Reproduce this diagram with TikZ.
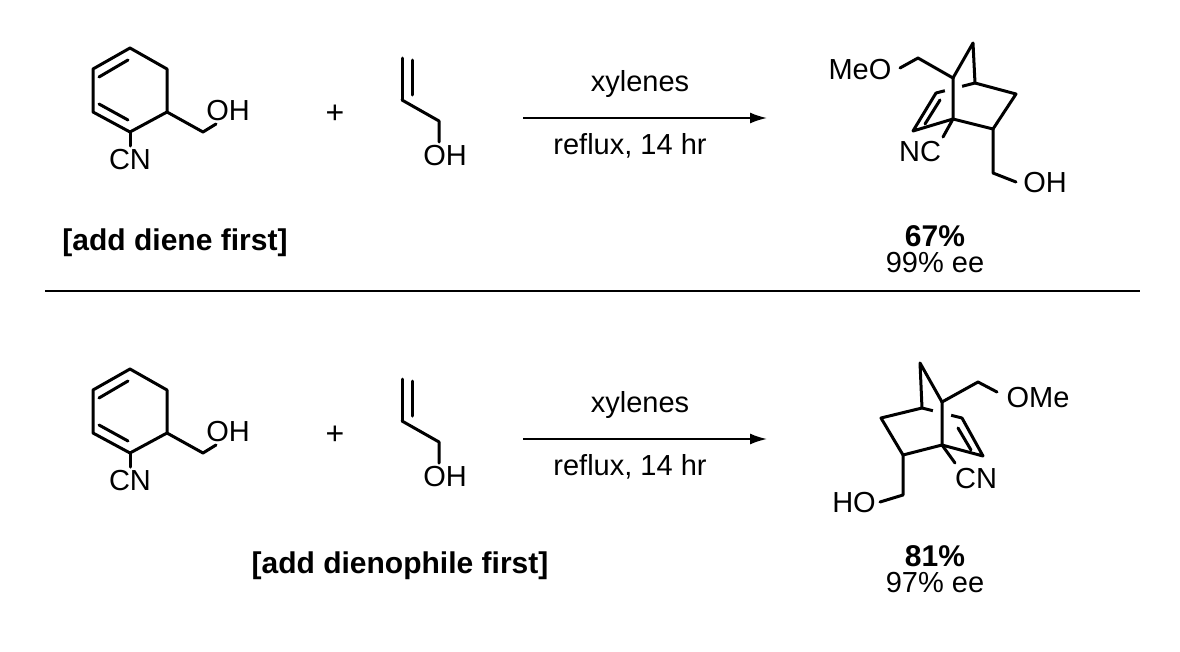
\documentclass[tikz,border=0pt]{standalone}
\usepackage{fontspec}
\setmainfont{Liberation Sans}
\usetikzlibrary{arrows.meta}
\tikzset{bond/.style={line width=3pt,line join=round,line cap=round},
  lbl/.style={inner sep=0pt,font=\fontsize{29}{32}\selectfont},
  blbl/.style={lbl,font=\fontsize{30}{33}\selectfont\bfseries},
  gap/.style={white,line width=6pt}}
\begin{document}
\begin{tikzpicture}[x=1pt,y=-1pt]
\useasboundingbox (0,0) rectangle (1180,651);
% reactants, both rows
\foreach \dy/\nm in {0/a,321/b} {
 \begin{scope}[yshift=-\dy]
 \draw[bond] (130,48)--(167,69)--(167,112)--(130,132)--(93,112)--(93,69)--cycle;
 \draw[bond] (99,77)--(128,60) (99,104)--(128,120);
 \draw[bond] (167,112)--(203,132)--(216,124);
 \node[lbl] (oh\nm) at (228,111) {OH};
 \draw[bond] (130,132)--(130,146);
 \node[lbl] (cn\nm) at (130,160) {CN};
 \node[lbl,font=\fontsize{32}{34}\selectfont] (plus\nm) at (335,114) {+};
 \draw[bond] (402,100)--(402,58) (412,95)--(412,60);
 \draw[bond] (402,100)--(439,121)--(439,142);
 \node[lbl] (al\nm) at (445,156) {OH};
 \coordinate (s\nm) at (523,118);
 \coordinate (e\nm) at (767,118);
 \draw[line width=1.8pt,-{Latex[length=17pt,width=11pt]}] (s\nm)--(e\nm);
 \node[lbl] (x\nm) at (640,84) {xylenes};
 \node[lbl] (r\nm) at (630,146) {reflux, 14 hr};
 \end{scope}
}
% product 1
\draw[bond] (953,78)--(973,43)--(975,83)--(1016,94)--(993,129)--(953,119);
\draw[bond] (936,93)--(975,83);
\draw[gap] (945,90.8)--(962,86.4);
\draw[bond] (953,78)--(953,119)--(913,131)--(936,93);
\draw[bond] (925,124)--(940,100);
\draw[bond] (953,78)--(918,58)--(900,68);
\node[lbl] (meo1) at (860,70) {MeO};
\draw[bond] (953,119)--(943,137);
\node[lbl] (nc1) at (920,152) {NC};
\draw[bond] (993,129)--(993,173)--(1016,182);
\node[lbl] (oh1) at (1045,183) {OH};
\node[blbl] (y1) at (935,236) {67\%};
\node[lbl] (ee1) at (935,263) {99\% ee};
\node[blbl] (c1) at (175,243) {[add diene first]};
\draw[line width=1.8pt] (45,291)--(1140,291);
% product 2
\draw[bond] (942,402)--(920,363)--(922,408)--(881,418)--(903,455)--(942,445);
\draw[bond] (922,408)--(962,418);
\draw[gap] (933,410.8)--(951,415.3);
\draw[bond] (942,402)--(942,445)--(983,456)--(962,418);
\draw[bond] (971,450)--(958,428);
\draw[bond] (942,402)--(978,382)--(997,392);
\node[lbl] (ome2) at (1038,398) {OMe};
\draw[bond] (942,445)--(955,463);
\node[lbl] (cn2) at (976,479) {CN};
\draw[bond] (903,455)--(903,495)--(880,502);
\node[lbl] (ho2) at (854,503) {HO};
\node[blbl] (y2) at (935,556) {81\%};
\node[lbl] (ee2) at (935,583) {97\% ee};
\node[blbl] (c2) at (400,566) {[add dienophile first]};
\end{tikzpicture}
\end{document}
